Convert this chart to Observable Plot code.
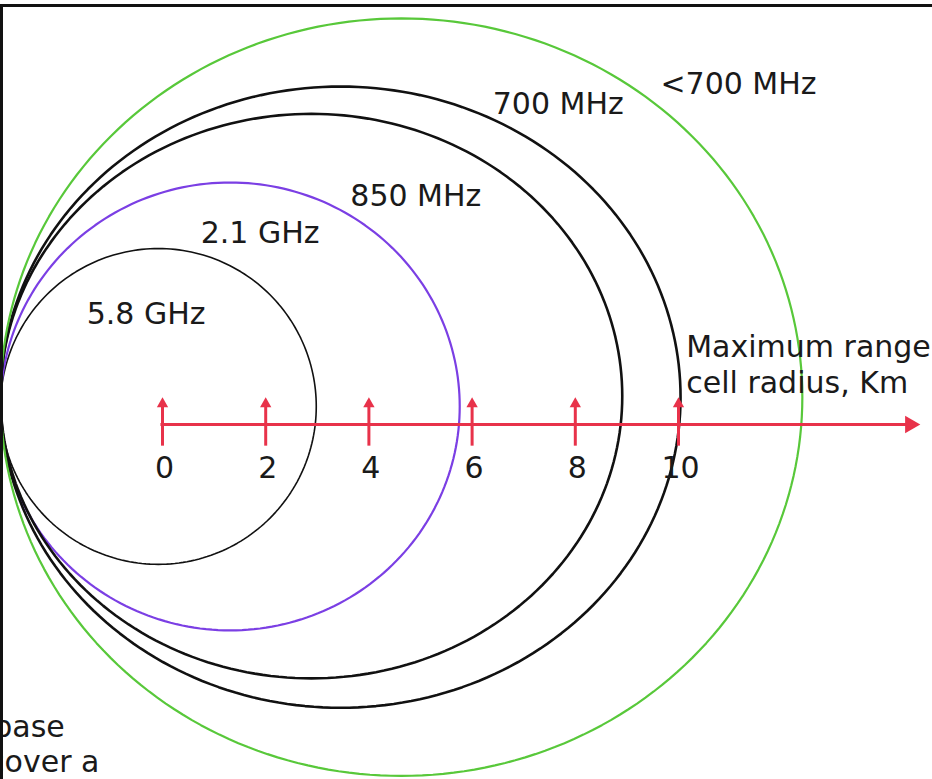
<!DOCTYPE html>
<html>
<head>
<meta charset="utf-8">
<script src="https://cdn.jsdelivr.net/npm/d3@7"></script>
<script src="https://cdn.jsdelivr.net/npm/@observablehq/plot@0.6"></script>
<style>
  html, body { margin: 0; padding: 0; background: #fff; overflow: hidden; }
  #wrap { position: relative; width: 932px; height: 779px; overflow: hidden; }
  #frame { position: absolute; left: 0; top: 4px; width: 932px; height: 775px;
           border-top: 3px solid #111; border-left: 3px solid #111; box-sizing: border-box; pointer-events: none; }
</style>
</head>
<body>
<div id="wrap"><div id="chart"></div><div id="frame"></div></div>
<script>
// Bands (km units): maximum range (right edge), half-height, centre height above axis
const bands      = ["5.8 GHz", "2.1 GHz", "850 MHz", "700 MHz", "<700 MHz"];
const maxRange   = [2.98, 5.76, 8.91, 10.04, 12.40];
const halfHeight = [3.06, 4.34, 5.47, 6.02, 7.34];
const centreY    = [0.35, 0.35, 0.55, 0.53, 0.53];
const origin     = -3.14;   // shared tangent point of all cells (km)
const bandColor  = ["#111111", "#7b3fe4", "#111111", "#111111", "#58c83a"];
const bandWidth  = [1.6, 2.2, 2.6, 2.6, 2.2];

// Band labels and their positions (km)
const labelText = ["5.8 GHz", "2.1 GHz", "850 MHz", "700 MHz", "<700 MHz"];
const labelX    = [-1.47, 0.74, 3.64, 6.40, 9.65];
const labelY    = [2.13, 3.70, 4.43, 6.20, 6.59];

// Axis
const ticks      = [0, 2, 4, 6, 8, 10];
const tickLabels = ["0", "2", "4", "6", "8", "10"];
const axisEnd    = 14.61;
const axisTitle  = ["Maximum range", "cell radius, Km"];
const axisTitleX = [10.15, 10.15];
const axisTitleY = [1.49, 0.80];

// Cut-off text at bottom left
const noteText = ["base", "cover a"];
const noteX    = [-3.28, -3.38];
const noteY    = [-5.87, -6.55];

const km = 51.6;
const W = 932, H = 779;
const xDomain = [-162 / km, (W - 162) / km];
const yDomain = [-(H - 424) / km, 424 / km];

// outline points of each cell (ellipse touching the origin)
const outline = [];
bands.forEach((b, i) => {
  const rx = (maxRange[i] - origin) / 2;
  const cx = origin + rx;
  const ry = halfHeight[i];
  const N = 240;
  for (let k = 0; k < N; k++) {
    const t = (k / N) * 2 * Math.PI;
    outline.push({band: b, i, x: cx + rx * Math.cos(t), y: centreY[i] + ry * Math.sin(t)});
  }
});

const labels = labelText.map((t, i) => ({t, x: labelX[i], y: labelY[i]}));
const tickData = ticks.map((v, i) => ({v, label: tickLabels[i]}));
const titles = axisTitle.map((t, i) => ({t, x: axisTitleX[i], y: axisTitleY[i]}));
const notes = noteText.map((t, i) => ({t, x: noteX[i], y: noteY[i]}));

const font = "DejaVu Sans";
const red = "#e8324a";
const ink = "#1a1a1a";

const marks = [];
bands.forEach((b, i) => {
  marks.push(Plot.line(outline.filter(d => d.i === i), {
    x: "x", y: "y", curve: "linear-closed",
    stroke: bandColor[i], strokeWidth: bandWidth[i]
  }));
});
marks.push(
  // axis line + filled head
  Plot.link([{x1: -0.04, x2: axisEnd - 0.2}], {x1: "x1", x2: "x2", y1: 0, y2: 0,
    stroke: red, strokeWidth: 3}),
  Plot.dot([{x: axisEnd - 0.12}], {x: "x", y: 0, symbol: "triangle", r: 6.5, rotate: 90,
    fill: red, stroke: "none"}),
  // tick stems + small filled heads
  Plot.link(tickData, {x1: "v", x2: "v", y1: -0.41, y2: 0.38,
    stroke: red, strokeWidth: 3}),
  Plot.dot(tickData, {x: "v", y: 0.40, symbol: "triangle", r: 4.2,
    fill: red, stroke: "none"}),
  Plot.text(tickData, {x: "v", y: -0.85, dx: 2, text: "label", fontSize: 30, fontFamily: font, fill: ink}),
  Plot.text(labels, {x: "x", y: "y", text: "t", textAnchor: "start", fontSize: 30, fontFamily: font, fill: ink}),
  Plot.text(titles, {x: "x", y: "y", text: "t", textAnchor: "start", fontSize: 30, fontFamily: font, fill: ink}),
  Plot.text(notes, {x: "x", y: "y", text: "t", textAnchor: "start", fontSize: 30, fontFamily: font, fill: ink})
);

const chart = Plot.plot({
  width: W, height: H,
  margin: 0,
  x: {domain: xDomain, axis: null},
  y: {domain: yDomain, axis: null},
  style: {background: "#fff", overflow: "hidden"},
  marks
});
document.getElementById("chart").appendChild(chart);
</script>
</body>
</html>
